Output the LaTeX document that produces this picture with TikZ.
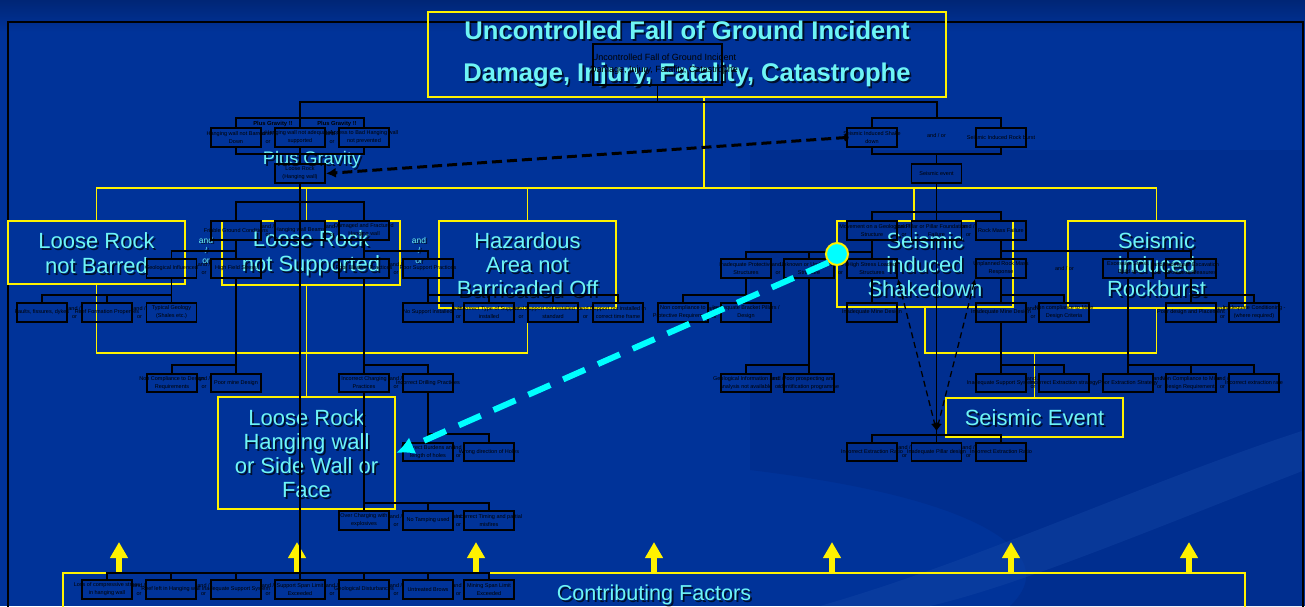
\documentclass[tikz,border=0pt]{standalone}
\usepackage{fontspec}
\setmainfont{Liberation Sans}
\usetikzlibrary{arrows.meta}
\definecolor{bgblue}{RGB}{0,51,153}
\definecolor{bgtop}{RGB}{0,38,118}
\definecolor{bgdark}{RGB}{0,42,135}
\definecolor{bglight}{RGB}{25,75,170}
\definecolor{cyantext}{RGB}{110,245,245}
\definecolor{arrowcyan}{RGB}{0,255,255}
\newcommand\bbx[3]{\node[bbox] (#1) at (#2) {};\node[btx] (#1t) at (#2) {#3};}
\newcommand\aor[2]{\node[btx] (#1) at (#2) {and /\\or};}
\newcommand\ctext[4]{\node[ctx,font={#3},shd] (#1s) at (#2) {#4};\node[ctx,font={#3}] (#1) at (#2) {#4};}
\begin{document}
\begin{tikzpicture}[x=0.5pt,y=-0.5pt,
  bl/.style={draw=black,line width=0.8pt},
  bbox/.style={draw=black,line width=0.85pt,minimum width=25pt,minimum height=9.3pt,inner sep=0pt},
  btx/.style={font=\fontsize{2.75pt}{4pt}\selectfont,align=center,inner sep=0pt,text=black},
  ybox/.style={draw=yellow,line width=1pt,inner sep=0pt},
  yl/.style={draw=yellow,line width=0.9pt},
  ctx/.style={text=cyantext,align=center,inner sep=0pt},
  shd/.style={text=black,opacity=0.7,xshift=0.9pt,yshift=-0.9pt},
  sdash/.style={draw=black,line width=0.65pt,dash pattern=on 3pt off 2pt,{Latex[length=3pt,width=2.5pt]}-{Latex[length=4pt,width=3.5pt]}},
  bdash/.style={draw=black,line width=1.5pt,dash pattern=on 5pt off 2.5pt,-{Latex[length=5pt,width=5pt]}},
  cdash/.style={draw=arrowcyan,line width=3pt,dash pattern=on 12pt off 7pt,-{Latex[length=9pt,width=9pt]}},
  yarrow/.style={draw=yellow,line width=2.8pt,-{Triangle[length=8pt,width=8.5pt]}}
]
\useasboundingbox (0,0) rectangle (1305,606);
\clip (0,0) rectangle (1305,606);
% background
\fill[bgblue] (0,0) rectangle (1305,606);
\shade[top color=bgtop,bottom color=bgblue] (0,0) rectangle (1305,32);
\fill[bgdark,opacity=0.55] (750,150) -- (1305,150) -- (1305,606) -- (1010,606) .. controls (1060,560) and (1000,500) .. (750,470) -- cycle;
\fill[bglight,opacity=0.35] (820,606) .. controls (980,560) and (1150,480) .. (1305,430) -- (1305,470) .. controls (1150,530) and (1020,585) .. (930,606) -- cycle;
% frame
\draw[black,line width=1pt] (8,620) -- (8,22) -- (1303,22) -- (1303,620);

% yellow boxes
\node[ybox,line width=1.2pt,minimum width=259pt,minimum height=42.5pt] (TITLE) at (687,54.5) {};
\node[ybox,minimum width=88.5pt,minimum height=31.5pt] (LRB) at (96.5,252.5) {};
\node[ybox,minimum width=89pt,minimum height=32pt] (LRS) at (311,253) {};
\node[ybox,minimum width=88.5pt,minimum height=43.5pt] (HAZ) at (527.5,264.5) {};
\node[ybox,minimum width=88pt,minimum height=43pt] (SHK) at (925,264) {};
\node[ybox,minimum width=88.5pt,minimum height=43.5pt] (RKB) at (1156.5,264.5) {};
\node[ybox,minimum width=88.5pt,minimum height=56pt] (LRH) at (306.5,453) {};
\node[ybox,minimum width=88.5pt,minimum height=19.5pt] (SEI) at (1034.5,417.5) {};
\node[ybox,minimum width=591pt,minimum height=33.5pt] (CF) at (654,606.5) {};

% yellow connectors
\coordinate (tdrop) at (704,188);
\draw[yl] (TITLE.south -| tdrop) -- (tdrop);
\draw[yl] (LRB.north) |- (tdrop) -| (RKB.north);
\draw[yl] (LRH.north |- LRS.north) -- (LRH.north |- tdrop);
\draw[yl] (HAZ.north) -- (HAZ.north |- tdrop);
\coordinate (sdrop) at (914,188);
\draw[yl] (sdrop) -- (sdrop |- SHK.north);
\coordinate (ybusL) at (306.5,353);
\draw[yl] (LRB.south) |- (ybusL) -| (HAZ.south);
\draw[yl] (LRH.north |- LRS.south) -- (LRH.north);
\coordinate (ybusR) at (1034.5,353);
\draw[yl] (SHK.south) |- (ybusR) -| (RKB.south);
\draw[yl] (SEI.north) -- (ybusR);

% yellow arrows
\foreach \x [count=\i] in {119,297,476,654,832,1011,1189}{
  \coordinate (ua\i) at (\x,542);
  \draw[yarrow] (CF.north -| ua\i) -- (ua\i);
}

% cyan texts
\ctext{ttl}{687,54}{\fontsize{12.8pt}{21pt}\selectfont\bfseries}{Uncontrolled Fall of Ground Incident\\Damage, Injury, Fatality, Catastrophe}
\ctext{lrbT}{96.5,253.5}{\fontsize{11pt}{12.5pt}\selectfont}{Loose Rock\\not Barred}
\ctext{lrsT}{311,253.5}{\fontsize{11pt}{12.5pt}\selectfont}{Loose Rock\\not Supported}
\ctext{hazT}{527.5,265}{\fontsize{11pt}{12pt}\selectfont}{Hazardous\\Area not\\Barricaded Off}
\ctext{shkT}{925,265}{\fontsize{11pt}{12pt}\selectfont}{Seismic\\induced\\Shakedown}
\ctext{rkbT}{1156.5,265}{\fontsize{11pt}{12pt}\selectfont}{Seismic\\induced\\Rockburst}
\ctext{lrhT}{306.5,454}{\fontsize{11pt}{12pt}\selectfont}{Loose Rock\\Hanging wall\\or Side Wall or\\Face}
\ctext{seiT}{1034.5,417.5}{\fontsize{11pt}{12pt}\selectfont}{Seismic Event}
\ctext{pgT}{312,160}{\fontsize{9.1pt}{10pt}\selectfont}{Plus Gravity}
\ctext{cfT}{654,595}{\fontsize{10.8pt}{12pt}\selectfont}{Contributing Factors}
\ctext{cao1}{206,250}{\fontsize{4.2pt}{5pt}\selectfont}{and\\/\\or}
\ctext{cao2}{419,250}{\fontsize{4.2pt}{5pt}\selectfont}{and\\/\\or}

% black boxes
\node[draw=black,line width=0.85pt,minimum width=64.5pt,minimum height=20.5pt,inner sep=0pt] (T0) at (657.5,64.5) {};
\node[btx,font=\fontsize{4.5pt}{6pt}\selectfont] (T0t) at (664,64) {Uncontrolled Fall of Ground Incident\\Damage, Injury, Fatality, Catastrophe};

\bbx{B1}{236,137.5}{Hanging wall not Barred\\Down}
\bbx{B2}{300,137.5}{Hanging wall not adequately\\supported}
\bbx{B3}{364,137.5}{Access to Bad Hanging wall\\not prevented}
\node[btx,font=\fontsize{2.9pt}{4pt}\selectfont\bfseries] (pg1) at (273,124) {Plus Gravity !!};
\node[btx,font=\fontsize{2.9pt}{4pt}\selectfont\bfseries] (pg2) at (337,124) {Plus Gravity !!};
\aor{ao1}{268,137.5}\aor{ao2}{332,137.5}
\bbx{LR}{300,173.5}{Loose Rock\\(Hanging wall)}
\bbx{S1}{872,137.5}{Seismic Induced Shake\\down}
\bbx{S2}{1001,137.5}{Seismic Induced Rock burst}
\node[btx] (ao3) at (936.5,136) {and / or};
\bbx{SEV}{936.5,173.5}{Seismic event}

\bbx{A1}{236,230.5}{Friable Ground Conditions}
\bbx{A2}{300,230.5}{Hanging wall Beams}
\bbx{A3}{364,230.5}{Damaged and Fractured\\Hanging wall}
\aor{ao4}{268,230.5}\aor{ao5}{332,230.5}
\bbx{Bgeo}{171.5,268.5}{Geological Influenced}
\bbx{Bhfs}{236,268.5}{High Field Stress}
\bbx{Bpbp}{364,268.5}{Poor Blasting Practices}
\bbx{Bpsp}{428,268.5}{Poor Support Practices}
\aor{ao6}{204,268.5}\aor{ao7}{396,268.5}
\bbx{C1}{42,312.5}{Faults, fissures, dykes}
\bbx{C2}{107,312.5}{Reef Formation Properties}
\bbx{C3}{171.5,312.5}{Typical Geology\\(Shales etc.)}
\bbx{C4}{428,312.5}{No Support installed}
\bbx{C5}{489,312.5}{Incorrect Type of Support\\installed}
\bbx{C6}{553,312.5}{Support not installed to\\standard}
\bbx{C7}{618,312.5}{Support not installed in\\correct time frame}
\aor{ao8}{74.5,312.5}\aor{ao9}{139.5,312.5}\aor{ao10}{458.5,312.5}\aor{ao11}{521,312.5}\aor{ao12}{585.5,312.5}
\bbx{D1}{172,383}{Non Compliance to Design\\Requirements}
\bbx{D2}{236,383}{Poor mine Design}
\bbx{D3}{364,383}{Incorrect Charging\\Practices}
\bbx{D4}{428,383}{Incorrect Drilling Practices}
\aor{ao13}{204,383}\aor{ao14}{396,383}
\bbx{E1}{428,452}{Incorrect Burdens and\\length of holes}
\bbx{E2}{489,452}{Wrong direction of Holes}
\aor{ao15}{458.5,452}
\bbx{F1}{364,520.5}{Over Charging with\\explosives}
\bbx{F2}{428,520.5}{No Tamping used}
\bbx{F3}{489,520.5}{Incorrect Timing and partial\\misfires}
\aor{ao16}{396,520.5}\aor{ao17}{458.5,520.5}
\bbx{G1}{107,589.5}{Loss of compressive stress\\in hanging wall}
\bbx{G2}{171,589.5}{Reef left in Hanging wall}
\bbx{G3}{236,589.5}{Inadequate Support System}
\bbx{G4}{300,589.5}{Support Span Limit\\Exceeded}
\bbx{G5}{364,589.5}{Geological Disturbances}
\bbx{G6}{428,589.5}{Untreated Brows}
\bbx{G7}{489,589.5}{Mining Span Limit\\Exceeded}
\aor{ao18}{139,589.5}\aor{ao19}{203.5,589.5}\aor{ao20}{268,589.5}\aor{ao21}{332,589.5}\aor{ao22}{396,589.5}\aor{ao23}{458.5,589.5}

\bbx{RA1}{872,230.5}{Movement on a Geological\\Structure}
\bbx{RA2}{936.5,230.5}{Pillar or Pillar Foundation\\Failure}
\bbx{RA3}{1001,230.5}{Rock Mass Failure}
\aor{ao24}{904,230.5}\aor{ao25}{968.5,230.5}
\bbx{RB1}{746,268.5}{Inadequate Protective\\Structures}
\bbx{RB2}{809,268.5}{Unknown or Undetected\\Structure}
\bbx{RB3}{872,268.5}{High Stress Loaded\\Structures}
\bbx{RB4}{1001,268.5}{Unplanned Rock Mass\\Response}
\bbx{RB5}{1128,268.5}{Excessive Stress\\Build up}
\bbx{RB6}{1191,268.5}{Inadequate Excavation\\Protection Measures}
\aor{ao26}{778,268.5}\aor{ao27}{840.5,268.5}\aor{ao28}{1159.5,268.5}
\node[btx] (ao29) at (1064.5,268.5) {and / or};
\bbx{RC1}{683,312.5}{Non compliance to\\Protective Requirements}
\bbx{RC2}{746,312.5}{Inadequate Bracket Pillars /\\Design}
\bbx{RC3}{872,312.5}{Inadequate Mine Design}
\bbx{RC4}{1001,312.5}{Inadequate Mine Design}
\bbx{RC5}{1064,312.5}{Non compliance to Mine\\Design Criteria}
\bbx{RC6}{1191,312.5}{Poor design and Placement}
\bbx{RC7}{1254,312.5}{Inadequate Conditioning -\\(where required)}
\aor{ao30}{714.5,312.5}\aor{ao31}{1033,312.5}\aor{ao32}{1222.5,312.5}
\bbx{RD1}{746,383}{Geological Information and\\analysis not available}
\bbx{RD2}{809,383}{Poor prospecting and\\identification programme}
\bbx{RD3}{1001,383}{Inadequate Support System}
\bbx{RD4}{1064,383}{Incorrect Extraction strategy}
\bbx{RD5}{1128,383}{Poor Extraction Strategy}
\bbx{RD6}{1191,383}{Non Compliance to Mine\\Design Requirements}
\bbx{RD7}{1254,383}{Incorrect extraction rate}
\aor{ao33}{777.5,383}\aor{ao34}{1033,383}\aor{ao35}{1159.5,383}\aor{ao36}{1222.5,383}
\bbx{RE1}{872,452}{Incorrect Extraction Ratio}
\bbx{RE2}{936.5,452}{Inadequate Pillar design}
\bbx{RE3}{1001,452}{Incorrect Extraction Ratio}
\aor{ao37}{904.5,452}\aor{ao38}{968.5,452}

% black connectors - top
\coordinate (tbL) at (300,102);
\coordinate (tbR) at (937,102);
\draw[bl] (T0.south) -- (T0.south |- tbL);
\draw[bl] (B2.north |- 0,118) -- (tbL) -- (tbR) -- (tbR |- 0,118);
\draw[bl] (B1.north) |- (B3.north |- 0,118) -- (B3.north);
\draw[bl] (B2.north) -- (B2.north |- 0,118);
\draw[bl] (B1.south) |- (B3.south |- 0,154) -- (B3.south);
\draw[bl] (B2.south) -- (LR.north);
\draw[bl] (S1.north) |- (S2.north |- 0,118) -- (S2.north);
\draw[bl] (S1.south) |- (S2.south |- 0,154) -- (S2.south);
\draw[bl] (SEV.north) -- (SEV.north |- 0,154);
\draw[bl] (LR.south) -- (G4.north);
\draw[bl] (SEV.south) -- (RA2.north);
\draw[bl] (RA2.south) -- (RE2.north);
% left tree
\draw[bl] (A1.north) |- (A3.north |- 0,202) -- (A3.north);
\draw[bl] (A1.south) -- (Bhfs.north);
\draw[bl] (Bgeo.north) |- (A1.south |- 0,251);
\draw[bl] (A3.south) -- (Bpbp.north);
\draw[bl] (Bpsp.north) |- (A3.south |- 0,251);
\draw[bl] (Bgeo.south) -- (Bgeo.south |- 0,295);
\draw[bl] (C1.north) |- (C3.north |- 0,295) -- (C3.north);
\draw[bl] (C2.north) -- (C2.north |- 0,295);
\draw[bl] (Bpsp.south) -- (C4.north);
\draw[bl] (C7.north) |- (C4.north |- 0,295);
\draw[bl] (C5.north) -- (C5.north |- 0,295);
\draw[bl] (C6.north) -- (C6.north |- 0,295);
\draw[bl] (Bhfs.south) -- (D2.north);
\draw[bl] (D1.north) |- (D2.north |- 0,365);
\draw[bl] (Bpbp.south) -- (D3.north);
\draw[bl] (D4.north) |- (D3.north |- 0,365);
\draw[bl] (D4.south) -- (E1.north);
\draw[bl] (E2.north) |- (E1.north |- 0,434);
\draw[bl] (D3.south) -- (F1.north);
\draw[bl] (F3.north) |- (F1.north |- 0,503);
\draw[bl] (F2.north) -- (F2.north |- 0,503);
\draw[bl] (G1.north) |- (G7.north |- 0,573) -- (G7.north);
\foreach \n in {G2,G3,G5,G6} \draw[bl] (\n.north) -- (\n.north |- 0,573);
% right tree
\draw[bl] (RA1.north) |- (RA3.north |- 0,212) -- (RA3.north);
\draw[bl] (RA1.south) -- (RB3.north);
\draw[bl] (RB1.north) |- (RB3.north |- 0,252);
\draw[bl] (RB2.north) -- (RB2.north |- 0,252);
\draw[bl] (RB3.south) -- (RC3.north);
\draw[bl] (RB1.south) -- (RC2.north);
\draw[bl] (RC1.north) |- (RC2.north |- 0,295);
\draw[bl] (RB2.south) -- (RD2.north);
\draw[bl] (RD1.north) |- (RD2.north |- 0,365);
\draw[bl] (RA3.south) -- (RB4.north);
\draw[bl] (RB6.north) |- (RB4.north |- 0,251);
\draw[bl] (RB5.north) -- (RB5.north |- 0,251);
\draw[bl] (RB4.south) -- (RC4.north);
\draw[bl] (RC5.north) |- (RC4.north |- 0,295);
\draw[bl] (RC4.south) -- (RD3.north);
\draw[bl] (RD4.north) |- (RD3.north |- 0,365);
\draw[bl] (RB5.south) -- (RD5.north);
\draw[bl] (RD7.north) |- (RD5.north |- 0,365);
\draw[bl] (RD6.north) -- (RD6.north |- 0,365);
\draw[bl] (RB6.south) -- (RC6.north);
\draw[bl] (RC7.north) |- (RC6.north |- 0,295);
\draw[bl] (RE1.north) |- (RE3.north |- 0,435) -- (RE3.north);

% dashed links
\coordinate (J) at (936.5,431);
\draw[sdash] (RB3.south east) -- (J);
\draw[sdash] (RB4.south west) -- (J);
\draw[bdash] (S1.west) -- (LR.east);
\fill[black] (S1.west) ellipse (1.2pt and 2pt);
\node[circle,fill=arrowcyan,draw=yellow,line width=1pt,minimum size=11pt,inner sep=0pt] (CIR) at (837,254) {};
\draw[cdash] (CIR.south west) -- (LRH.east);
\end{tikzpicture}
\end{document}
